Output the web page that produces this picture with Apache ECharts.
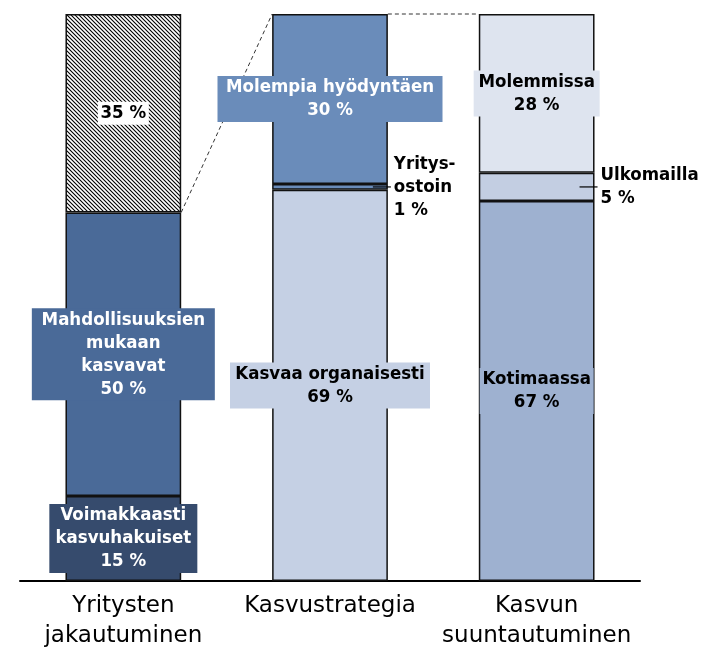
<!DOCTYPE html>
<html>
<head>
<meta charset="utf-8">
<script src="https://cdn.jsdelivr.net/npm/echarts@6/dist/echarts.min.js"></script>
<style>
  html, body { margin: 0; padding: 0; background: #fff; }
  #chart { width: 707px; height: 648px; }
</style>
</head>
<body>
<div id="chart"></div>
<script>
// data
var categories = ['Yritysten\njakautuminen', 'Kasvustrategia', 'Kasvun\nsuuntautuminen'];
var bottomValues = [15, 69, 67];
var middleValues = [50, 1, 5];
var topValues = [35, 30, 28];
var bottomNames = ['Voimakkaasti\nkasvuhakuiset', 'Kasvaa organaisesti', 'Kotimaassa'];
var middleNames = ['Mahdollisuuksien\nmukaan\nkasvavat', 'Yritys-\nostoin', 'Ulkomailla'];
var topNames = ['', 'Molempia hyödyntäen', 'Molemmissa'];

var FONT = '"DejaVu Sans Condensed", "DejaVu Sans", sans-serif';
var AXIS_FONT = '"DejaVu Sans", sans-serif';
var BAR_RATIO = 0.56;

// hatch for the top of the first column
function hatch() {
    var c = document.createElement('canvas');
    c.width = c.height = 4;
    var g = c.getContext('2d');
    g.fillStyle = '#fff';
    g.fillRect(0, 0, 4, 4);
    g.strokeStyle = '#000';
    g.lineWidth = 1.1;
    g.beginPath();
    g.moveTo(-1, -1); g.lineTo(5, 5);
    g.moveTo(3, -1); g.lineTo(5, 1);
    g.moveTo(-1, 3); g.lineTo(1, 5);
    g.stroke();
    return c;
}

var bottomColors = ['#364b6d', '#c5d0e4', '#9eb1d0'];
var middleColors = ['#4a6a98', '#6a8cba', '#c3cee2'];
var topColors = [{ image: hatch(), repeat: 'repeat' }, '#6a8cba', '#dee4ef'];

// label boxes: width, text colour, background; null = outside label
var bottomLabels = [[148, '#fff', '#364b6d'], [200, '#000', '#c5d0e4'], [114, '#000', '#9eb1d0']];
var middleLabels = [[183, '#fff', '#4a6a98'], null, null];
var topLabels = [[51, '#000', '#fff'], [225, '#fff', '#6a8cba'], [126, '#000', '#dee4ef']];

function makeSeries(values, names, colors, labels) {
    return {
        type: 'bar',
        stack: 'total',
        barWidth: (BAR_RATIO * 100) + '%',
        z: 2,
        data: values.map(function (v, i) {
            var lb = labels[i];
            var text = (names[i] ? names[i] + '\n' : '') + v + ' %';
            var label = lb ? {
                show: true,
                position: 'inside',
                formatter: text,
                width: lb[0],
                color: lb[1],
                backgroundColor: lb[2],
                align: 'center'
            } : {
                show: true,
                position: 'right',
                distance: 6,
                formatter: text,
                color: '#000',
                align: 'left'
            };
            label.fontFamily = FONT;
            label.fontSize = 18.5;
            label.fontWeight = 'bold';
            label.lineHeight = 23;
            return {
                value: v,
                itemStyle: { color: colors[i], borderColor: '#111', borderWidth: 1.5 },
                label: label
            };
        })
    };
}

var totals = bottomValues.map(function (v, i) { return v + middleValues[i] + topValues[i]; });
var connectors = [
    [0, bottomValues[0] + middleValues[0], 1, totals[1]],
    [1, totals[1], 2, totals[2]]
];
var leaders = [
    [1, bottomValues[1] + middleValues[1] / 2],
    [2, bottomValues[2] + middleValues[2] / 2]
];

var chart = echarts.init(document.getElementById('chart'));
chart.setOption({
    animation: false,
    grid: { left: 20, right: 67, top: 14, bottom: 67, outerBoundsMode: 'none' },
    xAxis: {
        type: 'category',
        data: categories,
        axisTick: { show: false },
        axisLine: { lineStyle: { color: '#000', width: 2 } },
        axisLabel: {
            interval: 0,
            margin: 10,
            color: '#000',
            fontFamily: AXIS_FONT,
            fontSize: 23,
            lineHeight: 30
        }
    },
    yAxis: { type: 'value', min: 0, max: 100, show: false },
    series: [
        makeSeries(bottomValues, bottomNames, bottomColors, bottomLabels),
        makeSeries(middleValues, middleNames, middleColors, middleLabels),
        makeSeries(topValues, topNames, topColors, topLabels),
        {
            type: 'custom',
            z: 1,
            encode: { x: 0, y: 1 },
            data: connectors,
            renderItem: function (params, api) {
                var p1 = api.coord([api.value(0), api.value(1)]);
                var p2 = api.coord([api.value(2), api.value(3)]);
                var half = api.size([1, 0])[0] * BAR_RATIO / 2;
                return {
                    type: 'line',
                    shape: { x1: p1[0] + half, y1: p1[1], x2: p2[0] - half, y2: p2[1] },
                    style: { stroke: '#333', lineWidth: 1, lineDash: [4, 3] }
                };
            }
        },
        {
            type: 'custom',
            z: 3,
            encode: { x: 0, y: 1 },
            data: leaders,
            renderItem: function (params, api) {
                var p = api.coord([api.value(0), api.value(1)]);
                var right = p[0] + api.size([1, 0])[0] * BAR_RATIO / 2;
                return {
                    type: 'line',
                    shape: { x1: right - 15, y1: p[1], x2: right + 3, y2: p[1] },
                    style: { stroke: '#000', lineWidth: 1.2 }
                };
            }
        }
    ]
});
</script>
</body>
</html>
